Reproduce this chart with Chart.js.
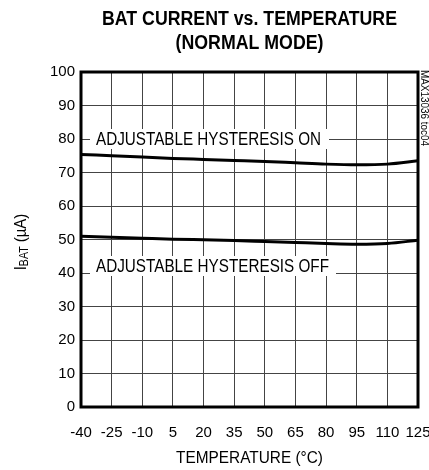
<!DOCTYPE html>
<html>
<head>
<meta charset="utf-8">
<script src="https://cdn.jsdelivr.net/npm/chart.js@4"></script>
<style>
  html, body { margin: 0; padding: 0; background: #fff; }
  #wrap { width: 429px; height: 470px; }
</style>
</head>
<body>
<div id="wrap"><canvas id="chart"></canvas></div>
<script>
const temps = [-40, -25, -10, 5, 20, 35, 50, 65, 80, 95, 110, 125];
const currentOn = [75.4, 75.0, 74.6, 74.2, 73.9, 73.6, 73.3, 72.9, 72.5, 72.3, 72.5, 73.5];
const currentOff = [51.0, 50.7, 50.4, 50.1, 49.9, 49.7, 49.4, 49.1, 48.8, 48.6, 48.8, 49.8];
const yTicks = [0, 10, 20, 30, 40, 50, 60, 70, 80, 90, 100];

const FONT = '"Liberation Sans", Arial, sans-serif';

const toPoints = (ys) => temps.map((t, i) => ({ x: t, y: ys[i] }));

// the reference uses a narrow face, so squeeze text to its measured width
function fitText(ctx, txt, x, y, font, width, align) {
  ctx.font = font;
  const w = ctx.measureText(txt).width;
  const k = Math.min(1, width / w);
  ctx.save();
  ctx.translate(x, y);
  ctx.scale(k, 1);
  ctx.textAlign = align;
  ctx.fillText(txt, 0, 0);
  ctx.restore();
}

const extras = {
  id: "extras",
  afterDatasetsDraw(chart) {
    const { ctx, chartArea: a, scales } = chart;
    ctx.save();
    ctx.textBaseline = "middle";

    // curve labels over the grid, on white boxes
    const labels = [
      ["ADJUSTABLE HYSTERESIS ON", 80, 0, 225, 329],
      ["ADJUSTABLE HYSTERESIS OFF", 40, -7, 233, 336],
    ];
    labels.forEach(([txt, yv, dy, w, endX]) => {
      const y = scales.y.getPixelForValue(yv) + dy;
      ctx.fillStyle = "#fff";
      ctx.fillRect(a.left + 9, y - 10, endX - a.left - 9, 20);
      ctx.fillStyle = "#000";
      fitText(ctx, txt, a.left + 15, y + 1, "18px " + FONT, w, "left");
    });

    // frame
    ctx.strokeStyle = "#000";
    ctx.lineWidth = 3;
    ctx.strokeRect(a.left, a.top, a.right - a.left, a.bottom - a.top);

    const cx = (a.left + a.right) / 2;
    fitText(ctx, "BAT CURRENT vs. TEMPERATURE", cx, 19, "bold 20px " + FONT, 295, "center");
    fitText(ctx, "(NORMAL MODE)", cx, 43, "bold 20px " + FONT, 148, "center");
    fitText(ctx, "TEMPERATURE (\u00B0C)", cx, 458, "17px " + FONT, 147, "center");

    // y title with subscript
    ctx.save();
    ctx.translate(21, 242);
    ctx.rotate(-Math.PI / 2);
    ctx.scale(0.88, 1);
    ctx.textAlign = "left";
    const p1 = "I", p2 = "BAT", p3 = " (\u00B5A)";
    ctx.font = "17px " + FONT;
    const w1 = ctx.measureText(p1).width, w3 = ctx.measureText(p3).width;
    ctx.font = "12px " + FONT;
    const w2 = ctx.measureText(p2).width;
    let x = -(w1 + w2 + w3) / 2;
    ctx.font = "17px " + FONT;
    ctx.fillText(p1, x, 0);
    x += w1;
    ctx.font = "12px " + FONT;
    ctx.fillText(p2, x, 4);
    x += w2;
    ctx.font = "17px " + FONT;
    ctx.fillText(p3, x, 0);
    ctx.restore();

    // side note
    ctx.save();
    ctx.translate(424, 108);
    ctx.rotate(Math.PI / 2);
    fitText(ctx, "MAX13036 toc04", 0, 0, "10px " + FONT, 76, "center");
    ctx.restore();

    ctx.restore();
  },
};

new Chart(document.getElementById("chart"), {
  type: "line",
  data: {
    datasets: [
      { label: "ADJUSTABLE HYSTERESIS ON", data: toPoints(currentOn) },
      { label: "ADJUSTABLE HYSTERESIS OFF", data: toPoints(currentOff) },
    ],
  },
  options: {
    responsive: true,
    maintainAspectRatio: false,
    animation: false,
    layout: { padding: { top: 72, right: 11, left: 0, bottom: 0 } },
    elements: {
      line: { borderColor: "#000", borderWidth: 3, cubicInterpolationMode: "monotone", fill: false },
      point: { radius: 0 },
    },
    plugins: {
      legend: { display: false },
      title: { display: false },
      tooltip: { enabled: false },
    },
    scales: {
      x: {
        type: "linear",
        min: -40,
        max: 125,
        afterBuildTicks(scale) {
          scale.ticks = temps.map((v) => ({ value: v }));
        },
        afterFit(scale) {
          scale.height = 63;
          scale.paddingLeft = 0;
          scale.paddingRight = 0;
        },
        ticks: { color: "#000", font: { family: FONT, size: 15 }, padding: 17, maxRotation: 0, autoSkip: false },
        grid: { color: "#444", lineWidth: 1, drawTicks: false },
        border: { display: false },
      },
      y: {
        min: 0,
        max: 100,
        afterBuildTicks(scale) {
          scale.ticks = yTicks.map((v) => ({ value: v }));
        },
        afterFit(scale) {
          scale.width = 81;
          scale.paddingTop = 0;
          scale.paddingBottom = 0;
        },
        ticks: { color: "#000", font: { family: FONT, size: 15 }, padding: 6 },
        grid: { color: "#444", lineWidth: 1, drawTicks: false },
        border: { display: false },
      },
    },
  },
  plugins: [extras],
});
</script>
</body>
</html>
